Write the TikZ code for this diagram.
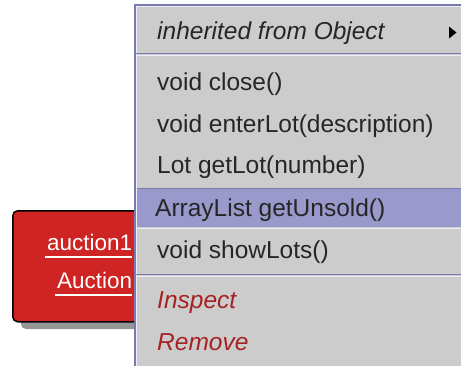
\documentclass[tikz,border=0pt]{standalone}
\usepackage{fontspec}
\setmainfont{Liberation Sans}
\usetikzlibrary{positioning, calc}

\definecolor{menugray}{RGB}{204,204,204}
\definecolor{menuhigh}{RGB}{153,153,204}
\definecolor{menuedge}{RGB}{122,122,178}
\definecolor{menulight}{RGB}{238,238,246}
\definecolor{objred}{RGB}{206,36,36}
\definecolor{cmdred}{RGB}{165,35,35}
\definecolor{shadowgray}{RGB}{150,150,150}

\begin{document}
\begin{tikzpicture}[
    x=1pt, y=-1pt,
    item/.style={anchor=base west, inner sep=0pt, text=black!85, font=\fontsize{24.5}{29}\selectfont},
    cmd/.style={item, text=cmdred, font=\fontsize{24.5}{29}\selectfont\itshape},
    objlabel/.style={anchor=base west, inner sep=0pt, text=white, font=\fontsize{22.5}{27}\selectfont},
    uline/.style={white, line width=2pt},
    sepline/.style={menuedge, line width=1.5pt},
    seplight/.style={menulight, line width=1pt},
]

    \clip (0,0) rectangle (461,365);
    \fill[white] (0,0) rectangle (461,365);

    % Object on the bench
    \fill[shadowgray, rounded corners=5pt] (21,218) rectangle (200,329);
    \node[draw=black, fill=objred, line width=1.5pt, rounded corners=5pt,
          minimum width=180pt, minimum height=111pt, anchor=north west, inner sep=0pt]
          (objbox) at (12,210) {};
    \node[objlabel] (objname) at (47,250) {auction1};
    \node[objlabel] (objclass) at (57,288) {Auction};
    \draw[uline] ($(objname.base west)+(-2,7)$) -- ($(objname.base east)+(0,7)$);
    \draw[uline] ($(objclass.base west)+(-2,7)$) -- ($(objclass.base east)+(0,7)$);

    % Popup menu
    \fill[menugray] (134,4) rectangle (470,375);
    \fill[menuhigh] (136,188) rectangle (470,227);
    \draw[menuedge, line width=1pt] (136,188.5) -- (470,188.5);
    \draw[seplight] (136,228) -- (470,228);
    \draw[menuedge, line width=2pt] (135,375) -- (135,5) -- (470,5);
    \draw[menulight, line width=0.8pt] (136.6,375) -- (136.6,6.6) -- (470,6.6);

    % Separators
    \draw[sepline] (136,53.5) -- (470,53.5);
    \draw[seplight] (136,55.5) -- (470,55.5);
    \draw[sepline] (136,274.5) -- (470,274.5);
    \draw[seplight] (136,276.5) -- (470,276.5);

    % Menu items
    \node[item, font=\fontsize{24.5}{29}\selectfont\itshape] (inherited) at (157,39) {inherited from Object};
    \node[item] (close) at (157,90) {void close()};
    \node[item] (enterlot) at (157,132) {void enterLot(description)};
    \node[item] (getlot) at (157,173) {Lot getLot(number)};
    \node[item] (getunsold) at (155,216) {ArrayList getUnsold()};
    \node[item] (showlots) at (157,258) {void showLots()};
    \node[cmd] (inspect) at (157,308) {Inspect};
    \node[cmd] (remove) at (157,350) {Remove};

    % Submenu arrow
    \fill[black] (449,26.5) -- (456.5,32.5) -- (449,38.5) -- cycle;

\end{tikzpicture}
\end{document}
